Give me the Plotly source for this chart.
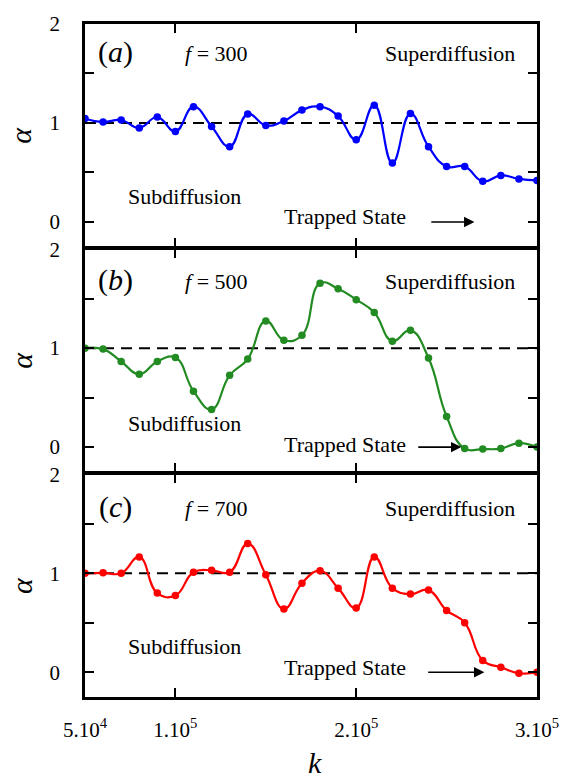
import plotly.graph_objects as go
from plotly.subplots import make_subplots

k = [50000, 60000, 70000, 80000, 90000, 100000, 110000, 120000, 130000, 140000,
     150000, 160000, 170000, 180000, 190000, 200000, 210000, 220000, 230000, 240000,
     250000, 260000, 270000, 280000, 290000, 300000]

alpha_f300 = [1.045, 1.01, 1.03, 0.95, 1.06, 0.915, 1.165, 0.965, 0.76, 1.09,
              0.975, 1.02, 1.13, 1.165, 1.07, 0.83, 1.18, 0.595, 1.095, 0.76,
              0.56, 0.56, 0.41, 0.47, 0.435, 0.42]
alpha_f500 = [1.0, 0.99, 0.865, 0.735, 0.865, 0.905, 0.565, 0.38, 0.725, 0.89,
              1.275, 1.08, 1.13, 1.655, 1.60, 1.49, 1.36, 1.07, 1.18, 0.90,
              0.31, -0.015, -0.02, -0.015, 0.04, 0.0]
alpha_f700 = [1.0, 1.005, 1.0, 1.165, 0.80, 0.775, 1.01, 1.03, 1.01, 1.30,
              0.985, 0.64, 0.90, 1.025, 0.85, 0.65, 1.165, 0.85, 0.79, 0.83,
              0.625, 0.50, 0.12, 0.05, -0.01, 0.0]

panel_labels = ["a", "b", "c"]
f_values = ["300", "500", "700"]
series = [alpha_f300, alpha_f500, alpha_f700]
colors = ["#0000ff", "#228b22", "#ff0000"]

x_tickvals = [50000, 100000, 200000, 300000]
x_ticktext = ["5.10<sup>4</sup>", "1.10<sup>5</sup>", "2.10<sup>5</sup>", "3.10<sup>5</sup>"]
y_tickvals = [0, 1, 2]
y_ticktext = ["0", "1", "2"]
y_minor_tickvals = [0.5, 1.5]

# annotation positions (data coords) per panel
trap_text_y = [0.05, 0.03, 0.05]
arrow_start = [240700, 233500, 239000]
arrow_end = [265400, 258200, 270900]
label_y = [1.72, 1.69, 1.67]
sub_y = [0.26, 0.24, 0.26]

FONT = "Liberation Serif"
TXT = 22

fig = make_subplots(rows=3, cols=1, shared_xaxes=True, vertical_spacing=2.5 / 681)

for i in range(3):
    r = i + 1
    col = colors[i]
    fig.add_trace(go.Scatter(
        x=k, y=series[i], mode="lines+markers",
        line=dict(color=col, width=2.2, shape="spline", smoothing=1.3),
        marker=dict(color=col, size=7.5),
        showlegend=False), row=r, col=1)
    fig.add_hline(y=1, line=dict(color="black", width=2, dash="11px,7px"),
                  layer="below", row=r, col=1)
    xr = "x" if r == 1 else f"x{r}"
    yr = "y" if r == 1 else f"y{r}"
    common = dict(xref=xr, yref=yr, showarrow=False, xanchor="center", yanchor="middle",
                  font=dict(family=FONT, size=TXT, color="black"))
    fig.add_annotation(x=67000, y=label_y[i], text="(<i>" + panel_labels[i] + "</i>)",
                       **{**common, "font": dict(family=FONT, size=30, color="black")})
    fig.add_annotation(x=123000, y=label_y[i] - 0.02, text="<i>f</i> = " + f_values[i], **common)
    fig.add_annotation(x=252000, y=label_y[i] - 0.02, text="Superdiffusion", **common)
    fig.add_annotation(x=105000, y=sub_y[i], text="Subdiffusion", **common)
    fig.add_annotation(x=194000, y=trap_text_y[i], text="Trapped State", **common)
    fig.add_annotation(x=arrow_end[i], y=0, ax=arrow_start[i], ay=0,
                       xref=xr, yref=yr, axref=xr, ayref=yr,
                       showarrow=True, arrowhead=2, arrowsize=1.3, arrowwidth=1.6,
                       arrowcolor="black", text="")
    fig.add_annotation(x=-0.142, y=0.88, xref="paper", yref=yr, text="<i>α</i>",
                       textangle=-90, showarrow=False, xanchor="center", yanchor="middle",
                       font=dict(family=FONT, size=30, color="black"))

    fig.update_yaxes(range=[-0.25, 2], tickvals=y_tickvals, ticktext=y_ticktext,
                     ticks="inside", ticklen=9, tickwidth=2.2, tickcolor="black",
                     minor=dict(tickvals=y_minor_tickvals, ticks="inside", ticklen=9,
                                tickwidth=2.2, tickcolor="black", showgrid=False),
                     showline=True, linecolor="black", linewidth=2.5, mirror="ticks",
                     showgrid=False, zeroline=False, ticklabelstandoff=18,
                     tickfont=dict(family=FONT, size=21, color="black"),
                     row=r, col=1)
    fig.update_xaxes(range=[50000, 300000], tickvals=x_tickvals, ticktext=x_ticktext,
                     ticks="inside", ticklen=9, tickwidth=2.2, tickcolor="black",
                     showline=True, linecolor="black", linewidth=2.5, mirror="ticks",
                     showgrid=False, zeroline=False,
                     showticklabels=(r == 3), ticklabelstandoff=12,
                     tickfont=dict(family=FONT, size=21, color="black"),
                     row=r, col=1)

fig.add_annotation(x=0.508, y=-0.097, xref="paper", yref="paper", text="<i>k</i>",
                   showarrow=False, xanchor="center", yanchor="middle",
                   font=dict(family=FONT, size=30, color="black"))

fig.update_layout(width=571, height=779,
                  margin=dict(l=85, r=31, t=16, b=82),
                  font=dict(family=FONT, color="black"),
                  plot_bgcolor="white", paper_bgcolor="white")

fig.write_html("out.html")
